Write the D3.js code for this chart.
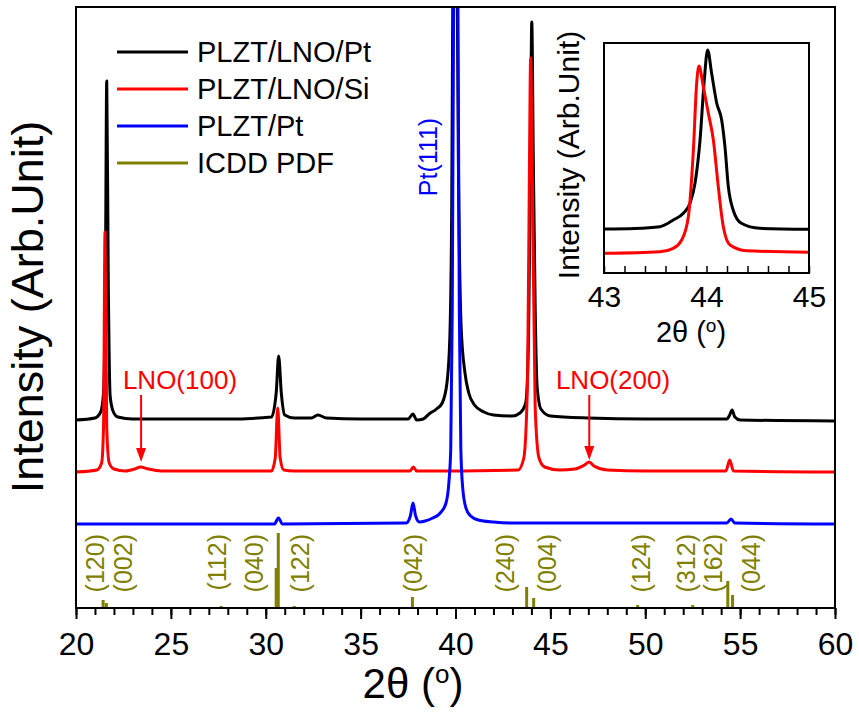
<!DOCTYPE html>
<html>
<head>
  <meta charset="utf-8">
  <title>XRD</title>
  <script src="https://d3js.org/d3.v7.min.js"></script>
  <style>
    body { margin: 0; background: #fff; }
    text { font-family: "Liberation Sans", Arial, sans-serif; }
  </style>
</head>
<body>
<script>
// series: [2theta, intensity (a.u.)]
var plztLnoPt = [[20,188],[21,190],[21.3,196],[21.45,215],[21.55,330],[21.62,527],[21.7,330],[21.8,212],[21.95,197],[22.2,191],[23,189],[25,189],
  [28,189],[30.3,191],[30.55,215],[30.68,252],[30.82,215],[31,193],[31.5,190],[32.4,190],[32.75,193],[33.2,190],[35,189],[37.5,189],
  [37.76,194],[37.95,188],[38.3,189],[38.6,194],[39,199],[39.3,205],[39.55,225],[39.7,270],[39.8,400],[39.87,650],[39.95,760],[40.05,720],
  [40.15,450],[40.3,280],[40.5,235],[40.7,215],[41,203],[41.5,196],[42,193],[43,192],[43.4,195],[43.7,205],[43.85,270],[43.95,450],
  [44.02,586],[44.1,450],[44.2,300],[44.3,222],[44.5,199],[45,192],[47,190],[50,189],[54.3,189],[54.45,193],[54.58,198],[54.72,191],[55,188],[60,187]];
var plztLnoSi = [[20,136],[21.1,138],[21.35,145],[21.45,180],[21.53,376],[21.62,180],[21.75,145],[22,139],[22.6,137],[23.1,139],[23.4,141],
  [23.8,139],[24.5,137],[30.3,137],[30.5,150],[30.63,200],[30.76,150],[30.95,138],[31.5,137],[37.6,137],[37.78,141],[37.95,137],
  [43.3,138],[43.6,150],[43.8,230],[43.9,450],[43.96,550],[44.05,430],[44.2,200],[44.4,150],[44.7,141],[45.5,138],[46.3,139],
  [46.8,143],[47.05,146],[47.3,142],[48,138],[50,137],[54.25,137],[54.45,148],[54.65,137],[60,136]];
var plztPt = [[20,84],[30.45,84],[30.67,90],[30.88,84],[37.4,85],[37.62,92],[37.76,105],[37.9,92],[38.1,86],[38.4,87],[38.8,90],
  [39.2,95],[39.5,105],[39.65,125],[39.75,160],[39.83,300],[39.9,600],[39.97,760],[40.07,760],[40.13,600],[40.2,300],[40.28,160],
  [40.38,120],[40.55,100],[40.8,92],[41.2,88],[42,86],[43,85],[54.3,85],[54.52,89],[54.72,85],[60,84]];

// ICDD PDF sticks: [2theta, height]
var pdfSticks = [[21.43,8],[21.6,5],[27.65,2],[30.55,40],[30.66,75],[31.5,2],[37.73,11],[43.75,21],[44.12,10],[49.6,3],[52.5,3],[54.35,27],[54.6,13]];
var pdfLabels = ["(120)","(002)","(112)","(040)","(122)","(042)","(240)","(004)","(124)","(312)","(162)","(044)"];
var pdfLabelPos = [21.0,22.48,27.44,29.39,31.82,37.78,42.64,44.85,49.81,52.14,53.56,55.57];

// inset 43-45 deg
var insetLnoPt = [[43,44],[43.3,44.5],[43.546,46.3],[43.676,53],[43.774,59.7],[43.839,69.7],[43.888,89.7],[43.937,133],[43.976,189.7],
  [44.011,223],[44.05,199.7],[44.1,169.7],[44.148,153],[44.18,126.3],[44.213,86.3],[44.26,63],[44.34,49.7],[44.52,44.7],[45,43.7]];
var insetLnoSi = [[43,19.7],[43.546,21.3],[43.676,24.7],[43.758,33],[43.823,56.3],[43.872,123],[43.904,189.7],[43.927,207],[43.969,186.3],
  [44.018,159.7],[44.067,133],[44.115,86.3],[44.164,46.3],[44.23,28],[44.39,22.3],[45,20.7]];

var legendNames = ["PLZT/LNO/Pt","PLZT/LNO/Si","PLZT/Pt","ICDD PDF"];
var colors = ["#000000","#ff0000","#0000ff","#808000"];
var mainTicks = [20,25,30,35,40,45,50,55,60];
var insetTicks = [43,44,45];

var W = 859, H = 715;
var svg = d3.select("body").append("svg").attr("width", W).attr("height", H);

var x = d3.scaleLinear().domain([20,60]).range([76,835]);
var y = d3.scaleLinear().domain([0,601]).range([608,7]);

svg.append("clipPath").attr("id","clip")
  .append("rect").attr("x",76).attr("y",7).attr("width",759).attr("height",601);

var line = d3.line()
  .x(function(d){ return x(d[0]); })
  .y(function(d){ return y(d[1]); })
  .curve(d3.curveMonotoneX);

var plot = svg.append("g").attr("clip-path","url(#clip)");
[plztLnoPt, plztLnoSi, plztPt].forEach(function(s, i){
  plot.append("path").datum(s)
    .attr("d", line)
    .attr("fill","none")
    .attr("stroke", colors[i])
    .attr("stroke-width", 3)
    .attr("stroke-linejoin","round");
});

// pdf sticks
plot.selectAll("rect.stick").data(pdfSticks).enter()
  .append("rect").attr("class","stick")
  .attr("x", function(d){ return x(d[0]) - 1.5; })
  .attr("y", function(d){ return y(d[1]); })
  .attr("width", 3)
  .attr("height", function(d){ return y(0) - y(d[1]); })
  .attr("fill", colors[3]);

svg.selectAll("text.pdf").data(pdfLabels).enter()
  .append("text").attr("class","pdf")
  .attr("transform", function(d,i){ return "translate(" + x(pdfLabelPos[i]) + "," + y(74) + ") rotate(-90)"; })
  .attr("dy","0.35em")
  .attr("text-anchor","end")
  .attr("font-size", 25)
  .attr("fill", colors[3])
  .text(function(d){ return d; });

// axis
var xMinor = d3.axisBottom(x).tickValues(d3.range(20,61,1)).tickSize(7).tickFormat("");
var xMajor = d3.axisBottom(x).tickValues(mainTicks).tickSize(11).tickFormat(d3.format("d"));
svg.append("g").attr("transform","translate(0,608)").call(xMinor)
  .call(function(g){ g.select(".domain").remove(); g.selectAll("line").attr("stroke-width",2); });
var gx = svg.append("g").attr("transform","translate(0,608)").call(xMajor);
gx.select(".domain").remove();
gx.selectAll("line").attr("stroke-width",2);
gx.selectAll("text").attr("dy",null).attr("y",47).attr("font-size",32)
  .attr("font-family","'Liberation Sans', Arial, sans-serif");

svg.append("rect").attr("x",76).attr("y",7).attr("width",759).attr("height",601)
  .attr("fill","none").attr("stroke","#000").attr("stroke-width",2);

var xl = svg.append("text").attr("x", 413).attr("y", 698).attr("text-anchor","middle").attr("font-size",42);
xl.append("tspan").text("2\u03b8 (");
xl.append("tspan").attr("baseline-shift","super").attr("font-size",26).text("o");
xl.append("tspan").text(")");

svg.append("text")
  .attr("transform","translate(43,307) rotate(-90)")
  .attr("text-anchor","middle")
  .attr("font-size",45)
  .text("Intensity (Arb.Unit)");

// annotations
svg.append("text")
  .attr("transform","translate(" + x(39.02) + "," + y(451) + ") rotate(-90)")
  .attr("text-anchor","middle").attr("font-size",25).attr("fill",colors[2])
  .text("Pt(111)");

var notes = [{t:"LNO(100)", tx:25.48, ty:219, ax:23.43, a0:213, a1:146},
             {t:"LNO(200)", tx:48.3, ty:219, ax:47.05, a0:213, a1:148}];
notes.forEach(function(n){
  svg.append("text").attr("x", x(n.tx)).attr("y", y(n.ty))
    .attr("text-anchor","middle").attr("font-size",26).attr("fill",colors[1]).text(n.t);
  svg.append("line").attr("x1", x(n.ax)).attr("x2", x(n.ax))
    .attr("y1", y(n.a0)).attr("y2", y(n.a1) - 12)
    .attr("stroke",colors[1]).attr("stroke-width",2);
  var hx = x(n.ax), hy = y(n.a1);
  svg.append("path").attr("d","M" + (hx-5) + "," + (hy-14) + "L" + (hx+5) + "," + (hy-14) + "L" + hx + "," + hy + "Z")
    .attr("fill",colors[1]);
});

// legend
var leg = svg.append("g");
legendNames.forEach(function(name, i){
  var ly = 52 + i*37;
  leg.append("line").attr("x1",117).attr("x2",188).attr("y1",ly).attr("y2",ly)
    .attr("stroke",colors[i]).attr("stroke-width",3);
  leg.append("text").attr("x",197).attr("y",ly+10).attr("font-size",29).text(name);
});

// inset
var ix = d3.scaleLinear().domain([43,45]).range([604,809]);
var iy = d3.scaleLinear().domain([0,230]).range([273,43]);
var iline = d3.line()
  .x(function(d){ return ix(d[0]); })
  .y(function(d){ return iy(d[1]); })
  .curve(d3.curveMonotoneX);
var inset = svg.append("g");
inset.append("rect").attr("x",604).attr("y",43).attr("width",205).attr("height",230).attr("fill","#fff");
[insetLnoPt, insetLnoSi].forEach(function(s, i){
  inset.append("path").datum(s).attr("d", iline)
    .attr("fill","none").attr("stroke",colors[i]).attr("stroke-width",3);
});
var ixMinor = d3.axisBottom(ix).tickValues(d3.range(43,45.01,0.2)).tickSize(-7).tickFormat("");
inset.append("g").attr("transform","translate(0,273)").call(ixMinor)
  .call(function(g){ g.select(".domain").remove(); g.selectAll("line").attr("stroke-width",1.5); });
var ixMajor = d3.axisBottom(ix).tickValues(insetTicks).tickSize(0).tickFormat(d3.format("d"));
var gix = inset.append("g").attr("transform","translate(0,273)").call(ixMajor);
gix.select(".domain").remove();
gix.selectAll("text").attr("dy",null).attr("y",34).attr("font-size",30)
  .attr("font-family","'Liberation Sans', Arial, sans-serif");
inset.append("rect").attr("x",604).attr("y",43).attr("width",205).attr("height",230)
  .attr("fill","none").attr("stroke","#000").attr("stroke-width",2);
var ixl = inset.append("text").attr("x",691).attr("y",342).attr("text-anchor","middle").attr("font-size",29);
ixl.append("tspan").text("2\u03b8 (");
ixl.append("tspan").attr("baseline-shift","super").attr("font-size",19).text("o");
ixl.append("tspan").text(")");
inset.append("text")
  .attr("transform","translate(579,155) rotate(-90)")
  .attr("text-anchor","middle").attr("font-size",30)
  .text("Intensity (Arb.Unit)");
</script>
</body>
</html>
